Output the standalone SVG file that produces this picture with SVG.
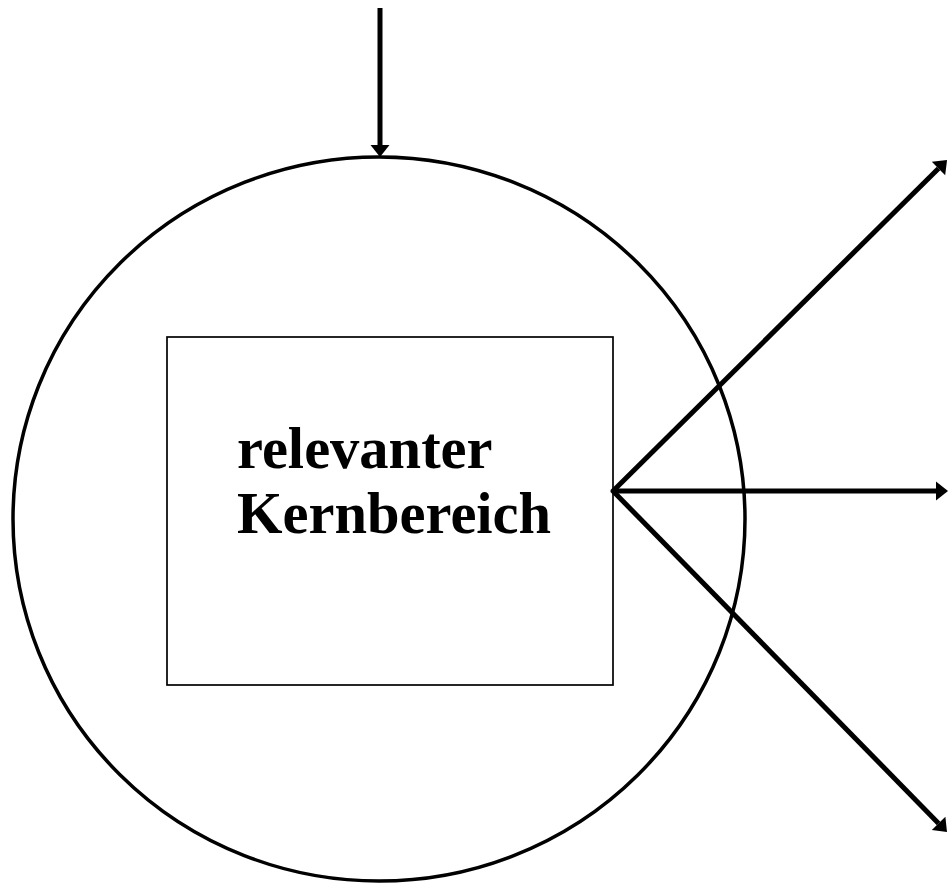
<svg xmlns="http://www.w3.org/2000/svg" width="949" height="886" viewBox="0 0 949 886">
<style>
.conn{stroke:#000;stroke-width:5;fill:none;marker-end:url(#ah)}
.lbl{font-family:"Liberation Serif","Times New Roman",serif;font-weight:bold;font-size:58.5px;fill:#000}
</style>
<defs>
<marker id="ah" viewBox="0 0 12 19" refX="0" refY="9.5" markerWidth="12" markerHeight="19" markerUnits="userSpaceOnUse" orient="auto" overflow="visible">
<path d="M0,0 L12,9.5 L0,19 z" fill="#000"/>
</marker>
</defs>
<rect width="949" height="886" fill="#fff"/>
<g id="circle">
<ellipse cx="379" cy="519" rx="366" ry="362" fill="none" stroke="#000" stroke-width="3.5"/>
</g>
<g id="core">
<rect x="167" y="337" width="446" height="348" fill="none" stroke="#000" stroke-width="1.7"/>
<text class="lbl" x="237" y="468">relevanter</text>
<text class="lbl" x="237" y="533">Kernbereich</text>
</g>
<g id="connectors">
<line class="conn" x1="380" y1="8" x2="380" y2="145"/>
<line class="conn" x1="612" y1="491" x2="936" y2="491"/>
<line class="conn" x1="612" y1="492" x2="938.5" y2="168.5"/>
<line class="conn" x1="612" y1="490" x2="938.6" y2="823.4"/>
</g>
</svg>
